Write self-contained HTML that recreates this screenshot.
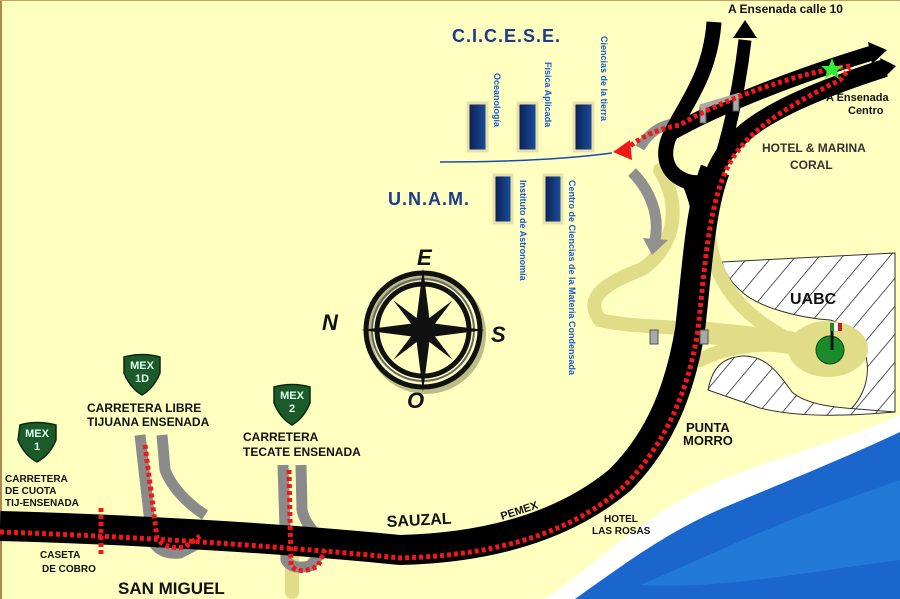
<!DOCTYPE html>
<html><head><meta charset="utf-8"><style>
html,body{margin:0;padding:0;background:#ffffc0;}
svg{display:block;}
text{font-family:"Liberation Sans",sans-serif;font-weight:bold;}
</style></head><body>
<svg width="900" height="599" viewBox="0 0 900 599" xmlns="http://www.w3.org/2000/svg">
<defs>
<pattern id="hatch" width="18" height="18" patternUnits="userSpaceOnUse" patternTransform="rotate(40)">
<rect width="18" height="18" fill="#fff"/><line x1="0" y1="0" x2="0" y2="18" stroke="#222" stroke-width="1.5"/>
</pattern>
<linearGradient id="bld" x1="0" x2="1"><stop offset="0" stop-color="#0a2050"/><stop offset="1" stop-color="#1b4fa0"/></linearGradient>
</defs>
<rect width="900" height="599" fill="#ffffc0"/>
<rect x="0" y="0" width="2" height="599" fill="#b08850"/>
<rect x="0" y="0" width="900" height="1" fill="#c8a060"/>

<!-- sea -->
<path d="M545,599 C600,560 640,520 700,490 C760,460 820,450 900,415 L900,599 Z" fill="#fff"/>
<path d="M575,599 C630,560 670,530 730,505 C790,480 840,460 900,432 L900,599 Z" fill="#1a66cc"/>
<path d="M640,585 C700,560 760,530 830,505 L900,480 L900,560 C820,570 720,590 640,585Z" fill="#2a86e0" opacity="0.6"/>

<!-- UABC hatch -->
<path d="M722,262 L895,253 L895,412 L850,410 C880,380 870,330 830,320 C800,318 760,308 742,292 Q726,278 722,262 Z" fill="url(#hatch)" stroke="#333" stroke-width="1"/>
<path d="M708,390 C712,370 720,358 742,356 C765,355 778,372 792,392 C810,408 850,408 870,410 L895,412 C850,416 800,418 760,408 Z" fill="url(#hatch)" stroke="#333" stroke-width="1"/>

<!-- khaki access roads -->
<g fill="none" stroke="#e0dc88" stroke-linecap="round">
<path d="M660,170 C690,220 660,260 640,270 C600,285 585,300 600,320 C640,330 720,325 790,340" stroke-width="14"/>
<path d="M712,175 C700,240 710,300 790,340" stroke-width="14"/>
<path d="M700,360 C730,345 770,340 800,350" stroke-width="14"/>
<path d="M700,332 L790,342" stroke-width="22"/>
<path d="M292,560 L292,592" stroke-width="14"/>
</g>
<ellipse cx="828" cy="349" rx="40" ry="28" fill="#e0dc88"/>
<circle cx="830" cy="350" r="14" fill="#1a8a2a" stroke="#0a4a10" stroke-width="1"/>
<line x1="832" y1="350" x2="832" y2="325" stroke="#111" stroke-width="3"/>
<rect x="830" y="323" width="4" height="8" fill="#1a8a2a"/><rect x="834" y="323" width="4" height="8" fill="#fff"/><rect x="838" y="323" width="4" height="8" fill="#c02020"/>

<!-- gray side roads -->
<g fill="none" stroke="#8a8a8a" stroke-width="11" stroke-linejoin="round">
<path d="M140,435 L152,540 Q160,555 180,553 L205,540"/>
<path d="M162,435 L165,470 Q175,495 205,515"/>
<path d="M283,465 L286,560 Q292,570 310,566 L325,548"/>
<path d="M301,465 L302,510 Q305,525 322,540"/>
</g>
<!-- gray arrow -->
<path d="M632,172 C650,190 660,215 655,240" fill="none" stroke="#909090" stroke-width="11"/>
<polygon points="643,238 668,240 652,255" fill="#909090"/>
<path d="M688,122 C665,122 650,130 640,148" fill="none" stroke="#909090" stroke-width="10"/>

<!-- black roads -->
<g fill="none" stroke="#000" stroke-linecap="butt" stroke-linejoin="round">
<path d="M0,526 C150,530 300,540 400,550 C480,548 560,530 620,480 C660,440 680,390 690,330 C698,260 700,210 715,170" stroke-width="30"/>
<path d="M712,180 C725,135 770,105 885,68" stroke-width="18"/>
<path d="M714,22 C710,80 680,110 668,140 C655,180 700,190 710,178" stroke-width="15"/>
<path d="M745,40 C738,100 725,150 710,190" stroke-width="13"/>
<path d="M690,185 C705,220 705,270 690,320" stroke-width="14"/>
<path d="M668,135 C720,105 800,75 872,53" stroke-width="15"/>
</g>
<polygon points="733,38 745,20 757,38" fill="#000"/>
<polygon points="868,42 887,50 872,64" fill="#000"/>
<polygon points="880,58 896,66 884,78" fill="#000"/>
<!-- bridges -->
<g fill="#a8a8a8" stroke="#555" stroke-width="1">
<rect x="700" y="107" width="6" height="16"/><rect x="733" y="95" width="6" height="16"/>
<rect x="650" y="330" width="8" height="14"/><rect x="700" y="330" width="8" height="14"/>
</g>
<path d="M700,107 L740,95" stroke="#a8a8a8" stroke-width="5"/>

<!-- red dotted route -->
<g fill="none" stroke="#f01818" stroke-width="5" stroke-dasharray="4,3">
<path d="M0,532 C150,537 300,548 400,558 C480,556 560,540 620,490 C662,450 688,395 698,330 C705,265 708,215 724,175 C740,135 780,110 840,80 L850,68"/>
<path d="M850,66 C800,72 720,100 680,125 C650,130 635,142 625,150"/>
<path d="M145,445 L157,538 Q165,550 185,547 L200,536"/>
<path d="M289,470 L291,566 Q300,575 318,566 L325,550"/>
<path d="M101,508 L101,555"/>
</g>
<polygon points="613,152 630,140 632,160" fill="#f01818"/>
<polygon points="832,58 835,66 843,66 837,71 839,79 832,74 825,79 827,71 821,66 829,66" fill="#33ee33"/>

<!-- MEX shields -->
<g fill="#1d5a2a" stroke="#0a2a10" stroke-width="1.5">
<path d="M20,425 Q36,420 56,425 L56,440 Q50,455 37,462 Q24,455 18,440 Z"/>
<path d="M124,357 Q142,352 160,357 L160,373 Q154,388 142,395 Q130,388 124,373 Z"/>
<path d="M274,387 Q292,382 310,387 L310,403 Q304,418 292,425 Q280,418 274,403 Z"/>
</g>
<g fill="#dfe" font-size="11" text-anchor="middle">
<text x="37" y="437">MEX</text><text x="37" y="450">1</text>
<text x="142" y="369">MEX</text><text x="142" y="382">1D</text>
<text x="292" y="399">MEX</text><text x="292" y="412">2</text>
</g>

<!-- labels black -->
<g fill="#111" font-size="12">
<text x="87" y="412">CARRETERA LIBRE</text>
<text x="87" y="426">TIJUANA ENSENADA</text>
<text x="243" y="441">CARRETERA</text>
<text x="243" y="456">TECATE ENSENADA</text>
</g>
<g fill="#111" font-size="10">
<text x="5" y="482">CARRETERA</text><text x="5" y="494">DE CUOTA</text><text x="5" y="506">TIJ-ENSENADA</text>
<text x="40" y="558">CASETA</text><text x="42" y="572">DE COBRO</text>
<text x="604" y="522">HOTEL</text><text x="592" y="534">LAS ROSAS</text>
<text x="762" y="152" font-size="12" font-weight="normal" fill="#333">HOTEL &amp; MARINA</text>
<text x="790" y="169" font-size="12" font-weight="normal" fill="#333">CORAL</text>
<text x="826" y="101" font-size="11" font-weight="normal">A Ensenada</text>
<text x="848" y="114" font-size="11" font-weight="normal">Centro</text>
<text x="728" y="13" font-size="12">A  Ensenada calle 10</text>
</g>
<text x="118" y="594" font-size="17" fill="#111">SAN MIGUEL</text>
<text x="387" y="527" font-size="16" fill="#111" transform="rotate(-3 387 527)">SAUZAL</text>
<text x="502" y="520" font-size="11" fill="#111" transform="rotate(-18 502 520)">PEMEX</text>
<text x="686" y="432" font-size="13" fill="#111">PUNTA</text>
<text x="683" y="445" font-size="13" fill="#111">MORRO</text>
<text x="790" y="304" font-size="16" fill="#111">UABC</text>

<!-- CICESE / UNAM -->
<text x="452" y="42" font-size="18" fill="#1a3a8a" letter-spacing="1">C.I.C.E.S.E.</text>
<text x="388" y="205" font-size="18" fill="#1a3a8a" letter-spacing="1">U.N.A.M.</text>
<path d="M440,162 C500,162 560,160 612,153" stroke="#1a4ab0" stroke-width="1.5" fill="none"/>
<g stroke="#e8e0a8" stroke-width="3" fill="url(#bld)">
<rect x="468" y="103" width="19" height="48"/><rect x="518" y="103" width="19" height="48"/><rect x="574" y="103" width="19" height="48"/>
<rect x="494" y="175" width="18" height="48"/><rect x="544" y="175" width="18" height="48"/>
</g>
<g fill="#1a5ad0" font-size="9">
<text transform="translate(494,73) rotate(90)">Oceanología</text>
<text transform="translate(545,62) rotate(90)">Física Aplicada</text>
<text transform="translate(601,36) rotate(90)">Ciencias de la tierra</text>
<text transform="translate(520,180) rotate(90)">Instituto de Astronomía</text>
<text transform="translate(569,180) rotate(90)">Centro de Ciencias de la Materia Condensada</text>
</g>

<!-- compass -->
<g transform="translate(423,330)">
<circle r="57" fill="none" stroke="#7a7a50" stroke-width="6" opacity="0.5" transform="translate(3,4)"/>
<circle r="57" fill="none" stroke="#111" stroke-width="5"/>
<circle r="46" fill="none" stroke="#111" stroke-width="5"/>
<circle r="51" fill="none" stroke="#666" stroke-width="2"/>
<polygon points="0,-62 7,-7 62,0 7,7 0,62 -7,7 -62,0 -7,-7" fill="#111"/>
<polygon points="0,-42 5,-5 42,0 5,5 0,42 -5,5 -42,0 -5,-5" fill="#111" transform="rotate(45)"/>
</g>
<g font-family="Liberation Serif,serif" font-style="italic" font-size="22" fill="#111">
<text x="322" y="330">N</text><text x="491" y="342">S</text><text x="417" y="265">E</text><text x="407" y="408">O</text>
</g>
</svg>
</body></html>
